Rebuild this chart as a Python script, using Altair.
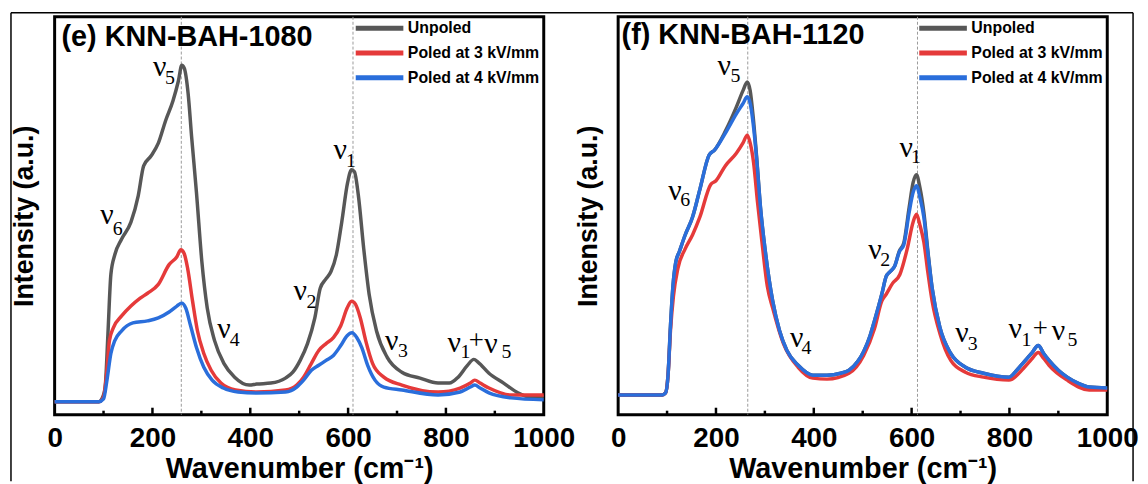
import altair as alt
import pandas as pd

series_names = ["Unpoled", "Poled at 3 kV/mm", "Poled at 4 kV/mm"]
series_colors = ["#575757", "#e53a3a", "#2a6edb"]
x_tick_labels = [0, 200, 400, 600, 800, 1000]
major_ticks = [200, 400, 600, 800]
minor_ticks = [100, 300, 500, 700, 900]

# ---- panel (e) KNN-BAH-1080 ----
e_unp_x = [0, 90, 100, 104, 109, 115, 123, 137, 156, 171, 182, 197, 212, 227, 242, 253, 260, 265, 273, 280,
           290, 301, 312, 327, 346, 368, 398, 413, 442, 472, 487, 502, 517, 532, 543, 554, 565, 576, 587, 599,
           607, 613, 621, 632, 643, 658, 680, 710, 747, 784, 807, 825, 844, 857, 866, 888, 918, 948, 970, 1000]
e_unp_y = [13, 13, 20, 32, 82, 142, 162, 178, 195, 222, 252, 262, 275, 298, 318, 338, 354, 351, 325, 282,
           225, 155, 108, 75, 52, 38, 30, 31, 32, 37, 43, 55, 72, 98, 128, 137, 145, 162, 195, 235,
           248, 246, 222, 168, 122, 85, 58, 43, 37, 32, 32, 38, 50, 56, 53, 42, 32, 22, 18, 18]
e_red_x = [0, 90, 100, 106, 112, 120, 137, 156, 175, 190, 212, 234, 250, 258, 265, 272, 282, 292, 305, 320,
           340, 370, 413, 472, 495, 509, 525, 540, 555, 570, 585, 598, 607, 615, 625, 636, 650, 673, 710, 784,
           829, 850, 859, 870, 888, 933, 1000]
e_red_y = [13, 13, 18, 40, 75, 88, 100, 110, 118, 123, 132, 152, 160, 167, 163, 148, 115, 85, 62, 45,
           32, 25, 23, 25, 30, 38, 52, 65, 72, 78, 90, 108, 115, 112, 98, 75, 52, 38, 30, 23,
           27, 32, 35, 32, 27, 20, 20]
e_blue_x = [0, 90, 100, 107, 115, 123, 137, 160, 190, 212, 234, 250, 260, 268, 278, 290, 305, 322, 345, 375,
            413, 472, 495, 509, 525, 540, 555, 570, 585, 598, 608, 618, 628, 640, 655, 673, 710, 784, 829, 850,
            859, 870, 888, 933, 1000]
e_blue_y = [13, 13, 16, 35, 62, 75, 85, 93, 95, 98, 104, 110, 113, 108, 90, 68, 48, 35, 27, 23,
            22, 23, 28, 35, 45, 50, 55, 60, 70, 80, 83, 78, 68, 50, 35, 28, 25, 20, 23, 28,
            30, 27, 22, 17, 15]
e_vlines = [259, 610]
e_ann_text = ["ν", "5", "ν", "6", "ν", "4", "ν", "2", "ν", "1", "ν", "3", "ν", "1", "+", "ν", "5"]
e_ann_kind = ["g", "s", "g", "s", "g", "s", "g", "s", "g", "s", "g", "s", "g", "s", "p", "g", "s"]
e_ann_x = [215, 236, 107, 129, 346, 368, 502, 525, 584, 606, 689, 712, 817, 840, 862, 892, 924]
e_ann_y = [352, 341, 202, 188, 87, 76, 125, 114, 268, 257, 75, 64, 73, 63, 75, 72, 63]
e_title = "(e) KNN-BAH-1080"
e_title_pos = (14, 382)

# ---- panel (f) KNN-BAH-1120 ----
f_blue_x = [0, 90, 97, 102, 107, 112, 118, 125, 137, 152, 167, 186, 197, 219, 242, 255, 264, 270, 276, 283,
            291, 301, 316, 330, 345, 368, 398, 427, 455, 472, 490, 502, 515, 524, 539, 548, 556, 565, 575, 584,
            595, 603, 610, 617, 625, 633, 642, 658, 680, 710, 747, 799, 815, 829, 845, 859, 870, 881, 900, 918,
            940, 963, 1000]
f_blue_y = [20, 20, 22, 40, 90, 130, 155, 165, 182, 200, 228, 263, 268, 285, 305, 315, 322, 315, 295, 260,
            210, 165, 115, 85, 65, 50, 40, 40, 42, 45, 54, 64, 80, 95, 122, 140, 145, 150, 165, 172,
            205, 225, 232, 220, 200, 165, 128, 88, 62, 48, 42, 38, 45, 53, 62, 70, 62, 55, 45, 38,
            32, 28, 27]
f_unp_x = f_blue_x
f_unp_y = [20, 20, 22, 40, 90, 130, 155, 165, 182, 200, 228, 263, 268, 287, 312, 328, 337, 328, 302, 262,
           210, 165, 115, 85, 65, 50, 40, 40, 42, 45, 54, 64, 80, 95, 122, 140, 145, 150, 166, 174,
           210, 235, 243, 230, 205, 167, 128, 88, 62, 48, 42, 38, 45, 53, 62, 70, 62, 55, 45, 38,
           32, 28, 27]
f_red_x = [0, 90, 97, 102, 107, 113, 122, 137, 152, 167, 189, 200, 219, 242, 255, 264, 270, 277, 285, 294,
           305, 316, 338, 368, 398, 427, 472, 502, 524, 539, 548, 561, 576, 591, 603, 610, 617, 625, 633, 642,
           658, 680, 710, 747, 799, 829, 845, 859, 870, 881, 918, 963, 1000]
f_red_y = [20, 20, 22, 40, 85, 120, 148, 168, 182, 200, 233, 237, 252, 265, 275, 283, 275, 255, 215, 175,
           130, 108, 72, 48, 37, 36, 42, 60, 87, 115, 122, 133, 142, 168, 195, 203, 192, 175, 145, 115,
           82, 55, 43, 38, 35, 47, 56, 63, 57, 50, 35, 25, 25]
f_vlines = [265, 612]
f_ann_text = ["ν", "5", "ν", "6", "ν", "4", "ν", "2", "ν", "1", "ν", "3", "ν", "1", "+", "ν", "5"]
f_ann_kind = ["g", "s", "g", "s", "g", "s", "g", "s", "g", "s", "g", "s", "g", "s", "p", "g", "s"]
f_ann_x = [217, 240, 116, 137, 365, 385, 525, 546, 589, 609, 703, 725, 812, 835, 863, 900, 929]
f_ann_y = [353, 343, 227, 217, 78, 67, 167, 157, 270, 261, 83, 72, 87, 76, 87, 85, 76]
f_title = "(f) KNN-BAH-1120"
f_title_pos = (7, 385)

PANEL_W = 493
PANEL_H = 401
SANS = "Liberation Sans"
SERIF = "Liberation Serif"

color_scale = alt.Scale(domain=series_names, range=series_colors)

x_enc = alt.X(
    "wn:Q",
    scale=alt.Scale(domain=[0, 1000], nice=False),
    axis=alt.Axis(
        values=x_tick_labels, format="d", labelFlush=False, ticks=False, tickSize=0,
        domain=False, grid=False, labelFont=SANS, labelFontSize=28, labelFontWeight="bold",
        labelColor="black", labelPadding=10, title="Wavenumber (cm⁻¹)", titleFont=SANS,
        titleFontSize=29, titleFontWeight="bold", titleColor="black", titlePadding=2,
    ),
)
y_enc = alt.Y(
    "I:Q",
    scale=alt.Scale(domain=[0, 403], nice=False),
    axis=alt.Axis(
        labels=False, ticks=False, domain=False, grid=False, title="Intensity (a.u.)",
        titleFont=SANS, titleFontSize=27, titleFontWeight="bold", titleColor="black",
        titlePadding=16,
    ),
)

# wide horizontal stroke symbol drawn mostly to the left of its anchor
legend = alt.Legend(
    title=None, orient="none", legendX=337, legendY=3, symbolType="M-7,0H1", symbolSize=144,
    symbolStrokeWidth=5, labelFont=SANS, labelFontSize=16, labelFontWeight="bold",
    labelColor="black", labelOffset=2, padding=0, rowPadding=4, labelLimit=300,
)


def make_panel(curves, vlines, ann, title_text, title_pos, outer_frame=False):
    layers = []
    # dashed guide lines
    vdf = pd.DataFrame({"wn": vlines})
    layers.append(
        alt.Chart(vdf).mark_rule(color="#9a9a9a", strokeWidth=1, strokeDash=[3, 2]).encode(x=x_enc)
    )
    # curves
    for name, xs, ys in curves:
        cdf = pd.DataFrame({"wn": xs, "I": ys, "series": name})
        layers.append(
            alt.Chart(cdf).mark_line(strokeWidth=3.5, interpolate="monotone").encode(
                x=x_enc, y=y_enc, color=alt.Color("series:N", scale=color_scale, legend=legend)
            )
        )
    # inward ticks
    tmaj = pd.DataFrame({"wn": major_ticks})
    tmin = pd.DataFrame({"wn": minor_ticks})
    layers.append(alt.Chart(tmaj).mark_rule(color="black", strokeWidth=2.5).encode(
        x=x_enc, y=alt.value(PANEL_H), y2=alt.value(PANEL_H - 7)))
    layers.append(alt.Chart(tmin).mark_rule(color="black", strokeWidth=2.5).encode(
        x=x_enc, y=alt.value(PANEL_H), y2=alt.value(PANEL_H - 4)))
    # annotations
    texts, kinds, axs, ays = ann
    adf = pd.DataFrame({"label": texts, "kind": kinds, "wn": axs, "I": ays})
    sizes = {"g": 30, "s": 20, "p": 27}
    for k, fs in sizes.items():
        layers.append(
            alt.Chart(adf).transform_filter(alt.datum.kind == k).mark_text(
                font=SERIF, fontSize=fs, color="black", align="center", baseline="middle"
            ).encode(x=x_enc, y=y_enc, text="label:N")
        )
    # panel title
    tdf = pd.DataFrame({"label": [title_text], "wn": [title_pos[0]], "I": [title_pos[1]]})
    layers.append(
        alt.Chart(tdf).mark_text(font=SANS, fontSize=29, fontWeight="bold", color="black",
                                 align="left", baseline="middle").encode(x=x_enc, y=y_enc, text="label:N")
    )
    if outer_frame:
        one = pd.DataFrame({"a": [0]})
        layers.append(alt.Chart(one).mark_rule(color="black", strokeWidth=1.5).encode(
            x=alt.value(-44), y=alt.value(-4), y2=alt.value(468)))
        layers.append(alt.Chart(one).mark_rule(color="black", strokeWidth=1.5).encode(
            x=alt.value(-44), x2=alt.value(1087), y=alt.value(-4)))
        layers.append(alt.Chart(one).mark_rule(color="black", strokeWidth=1.5).encode(
            x=alt.value(1087), y=alt.value(-4), y2=alt.value(468)))
    return alt.layer(*layers).properties(width=PANEL_W, height=PANEL_H)


left = make_panel(
    [(series_names[0], e_unp_x, e_unp_y), (series_names[1], e_red_x, e_red_y), (series_names[2], e_blue_x, e_blue_y)],
    e_vlines, (e_ann_text, e_ann_kind, e_ann_x, e_ann_y), e_title, e_title_pos, outer_frame=True,
)
right = make_panel(
    [(series_names[0], f_unp_x, f_unp_y), (series_names[1], f_red_x, f_red_y), (series_names[2], f_blue_x, f_blue_y)],
    f_vlines, (f_ann_text, f_ann_kind, f_ann_x, f_ann_y), f_title, f_title_pos,
)

chart = (
    alt.hconcat(left, right, spacing=75, bounds="flush")
    .resolve_legend(color="independent")
    .properties(padding=0, background="white")
    .configure_view(stroke="black", strokeWidth=3)
)

chart.save("out.html", embed_options={"renderer": "svg", "actions": False})
